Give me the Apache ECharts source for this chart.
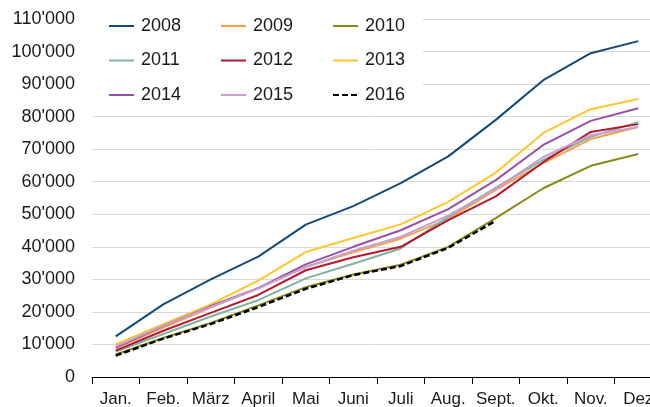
<!DOCTYPE html>
<html>
<head>
<meta charset="utf-8">
<script src="https://cdn.jsdelivr.net/npm/echarts@6/dist/echarts.min.js"></script>
<style>
  html, body { margin: 0; padding: 0; background: #fff; }
  #chart { width: 650px; height: 407px; }
</style>
</head>
<body>
<div id="chart"></div>
<script>
const months = ['Jan.', 'Feb.', 'März', 'April', 'Mai', 'Juni', 'Juli', 'Aug.', 'Sept.', 'Okt.', 'Nov.', 'Dez']
const years = ['2008', '2009', '2010', '2011', '2012', '2013', '2014', '2015', '2016']

const y2008 = [12500, 22300, 30000, 37000, 46800, 52500, 59600, 67800, 79000, 91200, 99500, 103200]
const y2009 = [8800, 15200, 21300, 27300, 33800, 38300, 42500, 48600, 57500, 65700, 73100, 76800]
const y2010 = [6900, 12000, 16600, 22000, 27600, 31500, 34500, 40000, 48800, 58000, 64900, 68500]
const y2011 = [7800, 13200, 18600, 23600, 30300, 34800, 39500, 49200, 58200, 66700, 73800, 78300]
const y2012 = [8100, 14200, 19700, 25200, 32800, 36800, 40000, 48200, 55500, 66000, 75300, 77700]
const y2013 = [10000, 16200, 22300, 29600, 38400, 42700, 46900, 53800, 62800, 75000, 82300, 85400]
const y2014 = [9000, 15700, 21800, 27300, 34600, 40000, 45100, 51600, 60500, 71300, 78700, 82600]
const y2015 = [9400, 15800, 21500, 27200, 33800, 38800, 43100, 49600, 57900, 67600, 74300, 76800]
const y2016 = [6600, 11800, 16300, 21500, 27100, 31300, 34100, 39700, 48000]

const yTicks = { min: 0, max: 110000, interval: 10000 }

const colors = ['#114b7b', '#f7a24b', '#8a8a14', '#7fb3a2', '#b5192f', '#ffc72e', '#9a4fa8', '#c89fd2', '#000000']
const seriesData = [y2008, y2009, y2010, y2011, y2012, y2013, y2014, y2015, y2016]

const font = 'Liberation Sans'
const textColor = '#1a1a1a'

const chart = echarts.init(document.getElementById('chart'))

const series = years.map((name, i) => ({
  name: name,
  type: 'line',
  data: seriesData[i],
  symbol: 'none',
  z: i === 8 ? 10 : 2,
  lineStyle: {
    color: colors[i],
    width: i === 8 ? 2.5 : 2,
    type: i === 8 ? [6, 3] : 'solid'
  },
  itemStyle: { color: colors[i] }
}))

const legendBase = {
  orient: 'vertical',
  top: 12,
  itemWidth: 25,
  itemHeight: 14,
  itemGap: 16.5,
  itemStyle: { opacity: 0 },
  textStyle: { fontFamily: font, fontSize: 18, color: textColor, padding: [0, 0, 0, 2] },
  z: 10
}

const option = {
  animation: false,
  backgroundColor: '#fff',
  color: colors,
  grid: { left: 92, right: -12, top: 19, bottom: 30, outerBoundsMode: 'none', containLabel: false },
  graphic: [{
    type: 'rect',
    z: 1,
    shape: { x: 92, y: 0, width: 331, height: 102 },
    style: { fill: '#fff' }
  }],
  legend: [
    Object.assign({}, legendBase, { left: 103, data: ['2008', '2011', '2014'] }),
    Object.assign({}, legendBase, { left: 215, data: ['2009', '2012', '2015'] }),
    Object.assign({}, legendBase, { left: 327, data: ['2010', '2013', '2016'] })
  ],
  xAxis: {
    type: 'category',
    data: months,
    boundaryGap: true,
    axisLine: { show: true, lineStyle: { color: '#000', width: 1 } },
    axisTick: { show: true, length: 7, lineStyle: { color: '#000' } },
    axisLabel: { fontFamily: font, fontSize: 17, color: textColor, margin: 14, interval: 0 }
  },
  yAxis: {
    type: 'value',
    min: yTicks.min,
    max: yTicks.max,
    interval: yTicks.interval,
    axisLine: { show: false },
    axisTick: { show: false },
    splitLine: { show: true, lineStyle: { color: '#d9d9d9', width: 1 } },
    axisLabel: {
      fontFamily: font, fontSize: 18, color: textColor, margin: 17,
      formatter: v => String(v).replace(/\B(?=(\d{3})+(?!\d))/g, "'")
    }
  },
  series: series
}

chart.setOption(option)
</script>
</body>
</html>
